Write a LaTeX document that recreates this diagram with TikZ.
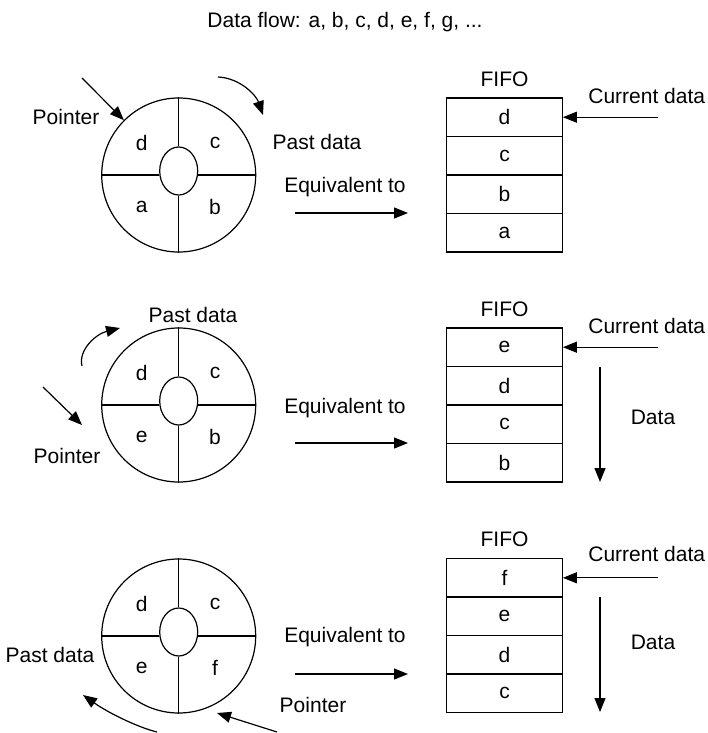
\documentclass[tikz,border=0pt]{standalone}
\usepackage{fontspec}
\setmainfont{Liberation Sans}
\usetikzlibrary{arrows.meta,shapes.geometric}
\begin{document}
\begin{tikzpicture}[x=1pt,y=-1pt,
  every node/.style={font=\fontsize{21}{25}\selectfont},
  line width=1.2pt,
  ring/.style={draw,circle,minimum size=154pt,inner sep=0pt},
  hub/.style={draw,ellipse,minimum width=38pt,minimum height=48pt,inner sep=0pt},
  cell/.style={draw,rectangle,minimum width=115.6pt,minimum height=38.5pt,inner sep=0pt},
  lbl/.style={inner sep=0pt},
  arr/.style={-{Triangle[length=14pt,width=11pt]}},
]
\useasboundingbox (0,0) rectangle (708,733);
\node[lbl] (title) at (345,22) {Data flow: a, b, c, d, e, f, g, ...};

% ---------- Panel 1 ----------
\node[ring] (r1) at (178.7,175) {};
\node[hub] (h1) at (178.7,171) {};
\draw (r1.north) -- (h1.north);
\draw (h1.south) -- (r1.south);
\draw (r1.west) -- (h1.west |- r1.west);
\draw (h1.east |- r1.east) -- (r1.east);
\node[lbl] (d1) at (141.7,143) {d};
\node[lbl] (c1) at (215,143) {c};
\node[lbl] (a1) at (141.7,207) {a};
\node[lbl] (b1) at (215,207) {b};
\coordinate (p1s) at (82,78);
\draw[arr] (p1s) -- (r1.135);
\node[lbl] (pt1) at (66,117) {Pointer};
\coordinate (pd1s) at (218,77);
\coordinate (pd1e) at (263,115);
\draw[arr] (pd1s) .. controls (240,78) and (256,95) .. (pd1e);
\node[lbl] (pdl1) at (317,142) {Past data};
\node[lbl] (eq1) at (345,187) {Equivalent to};
\coordinate (e1s) at (295,213);
\coordinate (e1e) at (408,213);
\draw[arr] (e1s) -- (e1e);
\node[lbl] (fifo1) at (504.5,79) {FIFO};
\node[cell] (f1a) at (504.5,117.2) {d};
\node[cell] (f1b) at (504.5,155.7) {c};
\node[cell] (f1c) at (504.5,194.2) {b};
\node[cell] (f1d) at (504.5,232.7) {a};
\node[lbl] (cd1) at (646.7,96) {Current data};
\coordinate (c1s) at (658,117.2);
\draw[arr] (c1s) -- (f1a.east);

% ---------- Panel 2 ----------
\node[ring] (r2) at (178.7,405) {};
\node[hub] (h2) at (178.7,401) {};
\draw (r2.north) -- (h2.north);
\draw (h2.south) -- (r2.south);
\draw (r2.west) -- (h2.west |- r2.west);
\draw (h2.east |- r2.east) -- (r2.east);
\node[lbl] (d2) at (141.7,373) {d};
\node[lbl] (c2) at (215,373) {c};
\node[lbl] (e2) at (141.7,437) {e};
\node[lbl] (b2) at (215,437) {b};
\coordinate (p2s) at (43,387);
\coordinate (p2e) at (82,425);
\draw[arr] (p2s) -- (p2e);
\node[lbl] (pt2) at (67,456) {Pointer};
\coordinate (pd2s) at (82,366);
\coordinate (pd2e) at (120,328);
\draw[arr] (pd2s) .. controls (78,350) and (96,334) .. (pd2e);
\node[lbl] (pdl2) at (193,315) {Past data};
\node[lbl] (eq2) at (345,408) {Equivalent to};
\coordinate (e2s) at (295,443);
\coordinate (e2e) at (408,443);
\draw[arr] (e2s) -- (e2e);
\node[lbl] (fifo2) at (504.5,309) {FIFO};
\node[cell] (f2a) at (504.5,347.2) {e};
\node[cell] (f2b) at (504.5,385.7) {d};
\node[cell] (f2c) at (504.5,424.2) {c};
\node[cell] (f2d) at (504.5,462.7) {b};
\node[lbl] (cd2) at (646.7,326) {Current data};
\coordinate (c2s) at (658,347.2);
\draw[arr] (c2s) -- (f2a.east);
\coordinate (dv2s) at (600,367);
\coordinate (dv2e) at (600,482);
\draw[arr] (dv2s) -- (dv2e);
\node[lbl] (dl2) at (653,417) {Data};

% ---------- Panel 3 ----------
\node[ring] (r3) at (178.7,636) {};
\node[hub] (h3) at (178.7,632) {};
\draw (r3.north) -- (h3.north);
\draw (h3.south) -- (r3.south);
\draw (r3.west) -- (h3.west |- r3.west);
\draw (h3.east |- r3.east) -- (r3.east);
\node[lbl] (d3) at (141.7,604) {d};
\node[lbl] (c3) at (215,604) {c};
\node[lbl] (e3) at (141.7,668) {e};
\node[lbl] (f3) at (215,668) {f};
\coordinate (p3s) at (277,732);
\coordinate (p3e) at (217,713);
\draw[arr] (p3s) -- (p3e);
\node[lbl] (pt3) at (313,705) {Pointer};
\coordinate (pd3s) at (157,732);
\coordinate (pd3e) at (83,695);
\draw[arr] (pd3s) .. controls (140,728) and (110,714) .. (pd3e);
\node[lbl] (pdl3) at (50,655) {Past data};
\node[lbl] (eq3) at (345,637) {Equivalent to};
\coordinate (e3s) at (295,674);
\coordinate (e3e) at (408,674);
\draw[arr] (e3s) -- (e3e);
\node[lbl] (fifo3) at (504.5,539) {FIFO};
\node[cell] (f3a) at (504.5,577.8) {f};
\node[cell] (f3b) at (504.5,616.3) {e};
\node[cell] (f3c) at (504.5,654.8) {d};
\node[cell] (f3d) at (504.5,693.3) {c};
\node[lbl] (cd3) at (646.7,554) {Current data};
\coordinate (c3s) at (658,577.8);
\draw[arr] (c3s) -- (f3a.east);
\coordinate (dv3s) at (600,597);
\coordinate (dv3e) at (600,712);
\draw[arr] (dv3s) -- (dv3e);
\node[lbl] (dl3) at (653,642) {Data};
\end{tikzpicture}
\end{document}
